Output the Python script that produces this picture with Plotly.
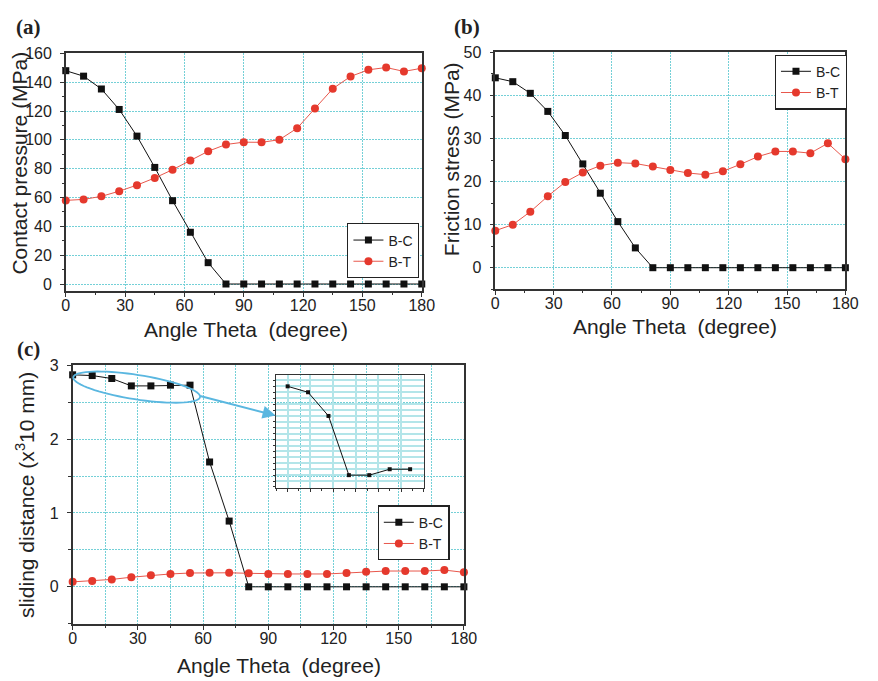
import math
import plotly.graph_objects as go

W, H = 878, 681

theta = [0, 9, 18, 27, 36, 45, 54, 63, 72, 81, 90, 99, 108, 117, 126, 135, 144, 153, 162, 171, 180]

# (a) contact pressure (MPa)
a_bc = [148.0, 144.2, 135.3, 121.1, 102.6, 80.9, 57.8, 35.9, 14.8, 0, 0, 0, 0, 0, 0, 0, 0, 0, 0, 0, 0]
a_bt = [58.0, 58.7, 60.8, 64.4, 68.6, 73.6, 79.3, 85.7, 92.1, 96.8, 98.4, 98.3, 100.1, 108.1, 121.8,
        135.5, 144.0, 148.6, 150.2, 147.5, 149.7]

# (b) friction stress (MPa)
b_bc = [44.1, 43.2, 40.5, 36.3, 30.7, 24.1, 17.3, 10.7, 4.6, 0, 0, 0, 0, 0, 0, 0, 0, 0, 0, 0, 0]
b_bt = [8.6, 10.0, 13.0, 16.6, 19.9, 22.1, 23.7, 24.4, 24.2, 23.5, 22.7, 22.0, 21.6, 22.4, 24.0,
        25.8, 27.0, 27.0, 26.6, 28.9, 25.2]

# (c) sliding distance (x10^3 mm)
c_bc = [2.87, 2.86, 2.82, 2.72, 2.72, 2.73, 2.73, 1.69, 0.89, 0, 0, 0, 0, 0, 0, 0, 0, 0, 0, 0, 0]
c_bt = [0.067, 0.08, 0.10, 0.13, 0.156, 0.174, 0.187, 0.19, 0.19, 0.183, 0.174, 0.174, 0.174, 0.174,
        0.187, 0.205, 0.214, 0.214, 0.214, 0.227, 0.196]

inset_n = 7  # first points shown in the inset

BLACK = "#111111"
RED = "#e5392d"
RED_LINE = "#e8574c"
GRID = "#74d0d7"
INSET_GRID = "#b3e5e9"
FRAME = "#333333"
FONT = "Liberation Sans"
DOT = "2px,1px"

def px_x(p):
    return p / W

def px_y(p):
    return 1 - p / H

fig = go.Figure()

panels = [
    ("", "", a_bc, a_bt, "legend"),
    ("2", "2", b_bc, b_bt, "legend2"),
    ("3", "3", c_bc, c_bt, "legend3"),
]
for xs, ys, bc, bt, lg in panels:
    fig.add_trace(go.Scatter(x=theta, y=bc, mode="lines+markers", name="B-C",
                             line=dict(color=BLACK, width=1),
                             marker=dict(symbol="square", size=7, color=BLACK),
                             xaxis="x" + xs, yaxis="y" + ys, legend=lg, cliponaxis=False))
    fig.add_trace(go.Scatter(x=theta, y=bt, mode="lines+markers", name="B-T",
                             line=dict(color=RED_LINE, width=1),
                             marker=dict(symbol="circle", size=8, color=RED),
                             xaxis="x" + xs, yaxis="y" + ys, legend=lg, cliponaxis=False))

# inset
fig.add_trace(go.Scatter(x=theta[:inset_n], y=c_bc[:inset_n], mode="lines+markers",
                         line=dict(color=BLACK, width=1),
                         marker=dict(symbol="square", size=4, color=BLACK),
                         xaxis="x4", yaxis="y4", showlegend=False, cliponaxis=False))

tickfont = dict(family=FONT, size=16, color="#222")

def xax(domain, anchor, dtick, minor_dtick, minor_grid=False):
    return dict(domain=domain, anchor=anchor, range=[0, 180], dtick=dtick, tick0=0,
                showgrid=True, gridcolor=GRID, griddash=DOT, gridwidth=1,
                zeroline=False, showline=True, linecolor=FRAME, linewidth=1.5, mirror=True,
                ticks="outside", ticklen=4, tickcolor=FRAME, tickwidth=1.2, tickfont=tickfont,
                ticklabelstandoff=-5,
                minor=dict(dtick=minor_dtick, ticks="outside", ticklen=2.5, tickcolor=FRAME,
                           showgrid=minor_grid, gridcolor=GRID, griddash=DOT, gridwidth=1))

def yax(domain, anchor, rng, dtick, minor_dtick, minor_grid=False):
    return dict(domain=domain, anchor=anchor, range=rng, dtick=dtick, tick0=0,
                showgrid=True, gridcolor=GRID, griddash=DOT, gridwidth=1,
                zeroline=False, showline=True, linecolor=FRAME, linewidth=1.5, mirror=True,
                ticks="outside", ticklen=4, tickcolor=FRAME, tickwidth=1.2, tickfont=tickfont,
                ticklabelstandoff=5,
                minor=dict(dtick=minor_dtick, ticks="outside", ticklen=2.5, tickcolor=FRAME,
                           showgrid=minor_grid, gridcolor=GRID, griddash=DOT, gridwidth=1))

dom_a_x = [px_x(63), px_x(426)]
dom_a_y = [px_y(287), px_y(46)]
dom_b_x = [px_x(501), px_x(858)]
dom_b_y = [px_y(285), px_y(45)]
dom_c_x = [px_x(70), px_x(469)]
dom_c_y = [px_y(624), px_y(362)]
dom_i_x = [px_x(277), px_x(428)]
dom_i_y = [px_y(486), px_y(372)]

legend_common = dict(bgcolor="rgba(255,255,255,1)", bordercolor="#222", borderwidth=1.2,
                     font=dict(family=FONT, size=14, color="#222"), xanchor="left",
                     yanchor="middle", tracegroupgap=0, itemwidth=30)

fig.update_layout(
    width=W, height=H, margin=dict(l=0, r=0, t=0, b=0),
    paper_bgcolor="white", plot_bgcolor="rgba(0,0,0,0)",
    xaxis=xax(dom_a_x, "y", 30, 15),
    yaxis=yax(dom_a_y, "x", [-5, 160], 20, 10),
    xaxis2=xax(dom_b_x, "y2", 30, 15),
    yaxis2=yax(dom_b_y, "x2", [-5, 50], 10, 5),
    xaxis3=xax(dom_c_x, "y3", 30, 15, minor_grid=True),
    yaxis3=yax(dom_c_y, "x3", [-0.5, 3], 1, 0.5, minor_grid=True),
    xaxis4=dict(domain=dom_i_x, anchor="y4", range=[-5.3, 60], dtick=10, tick0=0,
                showgrid=True, gridcolor=INSET_GRID, gridwidth=1.5, zeroline=False,
                showline=True, linecolor=FRAME, linewidth=1.2, mirror=True,
                ticks="outside", ticklen=3, tickcolor=FRAME, showticklabels=False,
                minor=dict(dtick=5, ticks="outside", ticklen=2, tickcolor=FRAME)),
    yaxis4=dict(domain=dom_i_y, anchor="x4", range=[2.699, 2.889], dtick=0.01, tick0=0,
                showgrid=True, gridcolor=INSET_GRID, gridwidth=1.5, zeroline=False,
                showline=True, linecolor=FRAME, linewidth=1.2, mirror=True,
                ticks="outside", ticklen=2, tickcolor=FRAME, showticklabels=False),
    legend=dict(x=px_x(350), y=px_y(246), **legend_common),
    legend2=dict(x=px_x(786), y=px_y(75), **legend_common),
    legend3=dict(x=px_x(381), y=px_y(532), **legend_common),
    showlegend=True,
)

title_font = dict(family=FONT, size=21, color="#222")
label_font = dict(family="Liberation Serif", size=21, color="#222")

annots = [
    # axis titles
    dict(text="Angle Theta  (degree)", x=px_x(247), y=px_y(326), font=title_font),
    dict(text="Contact pressure (MPa)", x=px_x(16), y=px_y(157), font=title_font, textangle=-90),
    dict(text="Angle Theta  (degree)", x=px_x(684), y=px_y(323), font=title_font),
    dict(text="Friction stress (MPa)", x=px_x(457), y=px_y(153), font=title_font, textangle=-90),
    dict(text="Angle Theta  (degree)", x=px_x(280), y=px_y(666), font=title_font),
    dict(text="sliding distance (x<sup>3</sup>10 mm)", x=px_x(22), y=px_y(494), font=title_font,
         textangle=-90),
    # panel labels
    dict(text="<b>(a)</b>", x=px_x(25), y=px_y(19), font=label_font),
    dict(text="<b>(b)</b>", x=px_x(472), y=px_y(19), font=label_font),
    dict(text="<b>(c)</b>", x=px_x(25), y=px_y(346), font=label_font),
]
for a in annots:
    a.update(xref="paper", yref="paper", showarrow=False, xanchor="center", yanchor="middle")
    fig.add_annotation(**a)

# arrow from ellipse to inset
ARROW = "#5ab7e0"
fig.add_annotation(xref="paper", yref="paper", axref="pixel", ayref="pixel",
                   x=px_x(277), y=px_y(413), ax=-77, ay=-20,
                   showarrow=True, arrowhead=2, arrowsize=1.3, arrowwidth=2, arrowcolor=ARROW, text="")

# tilted ellipse around the plateau
cx, cy, ra, rb, rot = 135.3, 384.2, 65.4, 12.4, math.radians(8.8)
pts = []
for k in range(73):
    t = 2 * math.pi * k / 72
    ex = ra * math.cos(t)
    ey = rb * math.sin(t)
    X = cx + ex * math.cos(rot) - ey * math.sin(rot)
    Y = cy + ex * math.sin(rot) + ey * math.cos(rot)
    pts.append((px_x(X), px_y(Y)))
path = "M " + " L ".join(f"{x:.5f},{y:.5f}" for x, y in pts) + " Z"
fig.add_shape(type="path", path=path, xref="paper", yref="paper",
              line=dict(color=ARROW, width=1.8))

fig.write_html("out.html")
